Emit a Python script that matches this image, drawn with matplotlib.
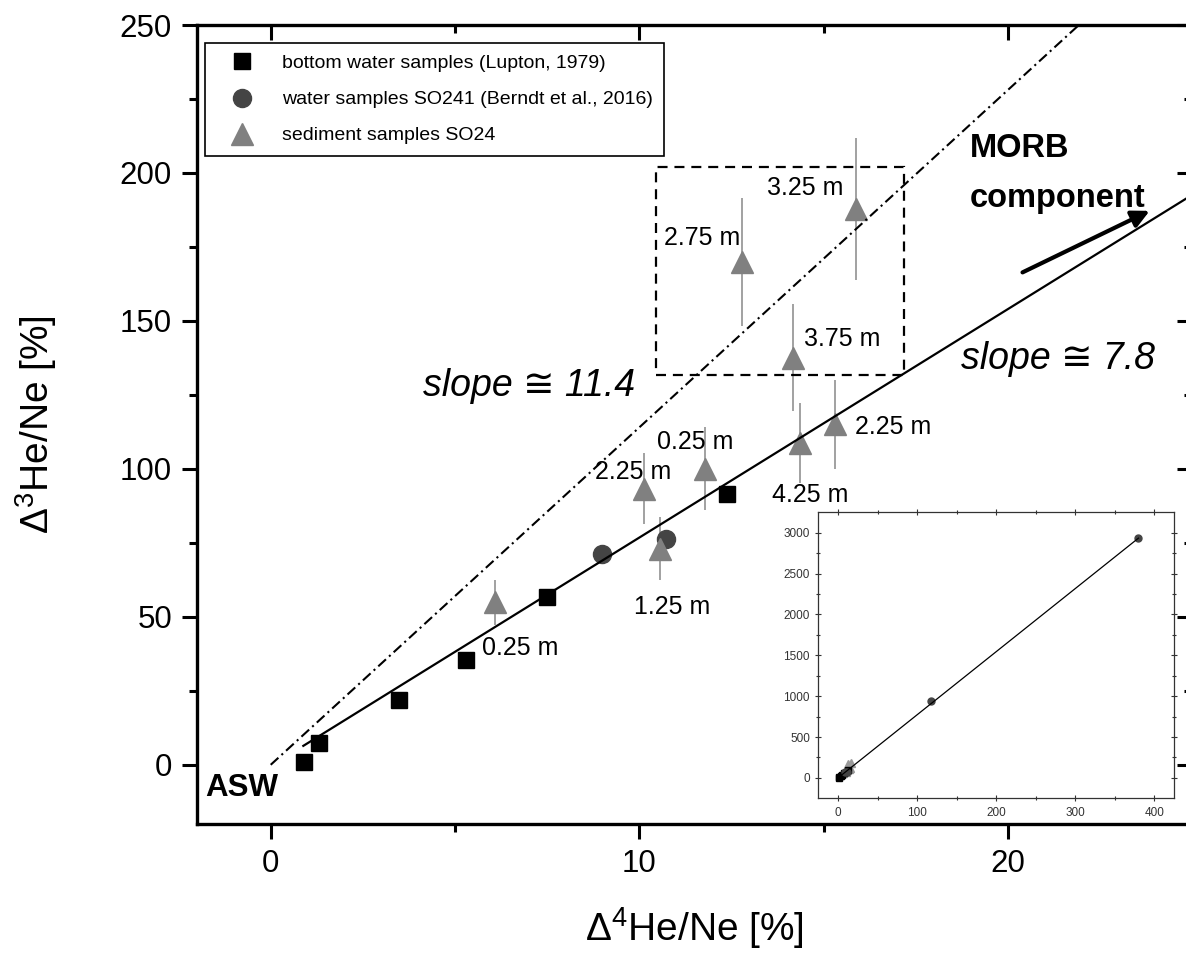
import numpy as np
import matplotlib
matplotlib.use('Agg')
import matplotlib.pyplot as plt
from matplotlib.patches import Rectangle

plt.rcParams['font.family'] = ['Liberation Sans', 'DejaVu Sans']
plt.rcParams['mathtext.fontset'] = 'custom'
plt.rcParams['mathtext.rm'] = 'Liberation Sans'
plt.rcParams['mathtext.it'] = 'Liberation Sans:italic'

# bottom water samples (Lupton, 1979)
x_sq = [0.90, 1.31, 3.48, 5.30, 7.49, 12.37]
y_sq = [0.8, 7.5, 22.0, 35.5, 56.6, 91.6]
# water samples SO241 (Berndt et al., 2016)
x_ci = [8.98, 10.72]
y_ci = [71.3, 76.3]
# extra SO241 samples only visible in the inset
x_ci_far = [117, 380]
y_ci_far = [940, 2940]
# sediment samples SO24
x_tr = [6.09, 10.14, 10.56, 11.79, 12.80, 14.18, 14.37, 15.32, 15.87]
y_tr = [55.0, 93.3, 73.0, 100.0, 169.9, 137.6, 108.6, 115.0, 187.9]
e_tr = [7.6, 12.0, 10.7, 14.0, 21.5, 18.0, 13.5, 15.0, 24.0]
depth = ['0.25 m', '2.25 m', '1.25 m', '0.25 m', '2.75 m', '3.75 m', '4.25 m', '2.25 m', '3.25 m']

# regression lines
slope_fit, icpt_fit = 7.72, -0.43
slope_hi = 11.4

# layout (data coords) for depth labels
lab_pos = [(6.77, 39.6), (9.83, 99.1), (10.9, 53.4), (11.51, 109.0), (11.7, 178.0),
           (15.52, 143.8), (14.64, 91.1), (16.89, 114.3), (14.5, 194.9)]

fig = plt.figure(figsize=(11.86, 9.58), dpi=100)
ax = fig.add_axes([0.1661, 0.1399, 1.0051 - 0.1661, 0.9739 - 0.1399])

ax.errorbar(x_tr, y_tr, yerr=e_tr, fmt='none', ecolor='#9a9a9a', elinewidth=1.3, zorder=2)
ax.plot(x_sq, y_sq, 's', color='black', ms=12, ls='', zorder=3,
        label='bottom water samples (Lupton, 1979)')
ax.plot(x_ci, y_ci, 'o', color='#444444', ms=13, ls='', zorder=3,
        label='water samples SO241 (Berndt et al., 2016)')
ax.plot(x_tr, y_tr, '^', color='#808080', ms=16, ls='', zorder=3,
        label='sediment samples SO24')

xf = np.array([0.885, 25.5])
ax.plot(xf, slope_fit * xf + icpt_fit, color='black', lw=1.6, zorder=4)
xh = np.array([0, 250 / slope_hi])
ax.plot(xh, slope_hi * xh, color='black', lw=1.5, ls=(0, (5, 2, 1, 2)), zorder=4)

ax.add_patch(Rectangle((10.46, 131.6), 17.19 - 10.46, 202.1 - 131.6, fill=False,
                       ec='black', lw=1.6, ls=(0, (4.5, 3.1)), zorder=4))

for t, (px, py) in zip(depth, lab_pos):
    ax.text(px, py, t, fontsize=18, ha='center', va='center', zorder=5)

ax.text(7.0, 127.9, 'slope \u2245 11.4', fontsize=27, style='italic', ha='center', va='center')
ax.text(21.36, 137.3, 'slope \u2245 7.8', fontsize=27, style='italic', ha='center', va='center')
ax.text(18.98, 208.4, 'MORB', fontsize=23.5, weight='bold', ha='left', va='center')
ax.text(18.98, 191.5, 'component', fontsize=23.5, weight='bold', ha='left', va='center')
ax.text(-1.78, -7.8, 'ASW', fontsize=22.5, weight='bold', ha='left', va='center')
ax.annotate('', xy=(23.85, 187.2), xytext=(20.4, 166.4),
            arrowprops=dict(arrowstyle='-|>', lw=3, color='black', mutation_scale=26,
                            shrinkA=0, shrinkB=0))

ax.set_xlim(-2, 25)
ax.set_ylim(-20, 250)
ax.set_xticks([0, 10, 20])
ax.set_xticks([5, 15], minor=True)
ax.set_yticks(np.arange(0, 251, 50))
ax.set_yticks(np.arange(25, 250, 50), minor=True)
ax.tick_params(which='major', direction='out', length=11, width=2.2, labelsize=22.5, pad=7)
ax.tick_params(which='minor', direction='out', length=6, width=2.2)
for s in ax.spines.values():
    s.set_linewidth(2.4)

top = ax.secondary_xaxis('top')
top.set_xticks([0, 10, 20])
top.set_xticks([5, 15], minor=True)
top.tick_params(which='major', direction='in', length=11, width=2.2, labeltop=False)
top.tick_params(which='minor', direction='in', length=6, width=2.2)
right = ax.secondary_yaxis('right')
right.set_yticks(np.arange(0, 251, 50))
right.set_yticks(np.arange(25, 250, 50), minor=True)
right.tick_params(which='major', direction='in', length=11, width=2.2, labelright=False)
right.tick_params(which='minor', direction='in', length=6, width=2.2)

ax.set_xlabel(r'$\mathregular{\Delta^4}$He/Ne [%]', fontsize=28, labelpad=19)
ax.set_ylabel(r'$\mathregular{\Delta^3}$He/Ne [%]', fontsize=28, labelpad=44)

leg = ax.legend(loc='upper left', bbox_to_anchor=(205 / 1186, 1 - 43 / 958),
                bbox_transform=fig.transFigure, fancybox=False, edgecolor='black',
                framealpha=1, fontsize=14, borderaxespad=0, labelspacing=0.95,
                handletextpad=0.75, borderpad=0.6, handlelength=2.6)
leg.get_frame().set_linewidth(1.2)

# inset with the full range
ax2 = fig.add_axes([818.3 / 1186, (958 - 798.3) / 958, (1174 - 818.3) / 1186, (798.3 - 512.3) / 958])
xi = np.array([0, 380])
ax2.plot(xi, slope_fit * xi, color='black', lw=0.9, zorder=4)
ax2.plot(x_tr, y_tr, '^', color='#999999', ms=6, ls='')
ax2.plot(x_sq, y_sq, 's', color='black', ms=4, ls='')
ax2.plot(x_ci + x_ci_far, y_ci + y_ci_far, 'o', color='#444444', ms=5, ls='')
ax2.set_xlim(-25, 425)
ax2.set_ylim(-250, 3250)
ax2.set_xticks(np.arange(0, 401, 100))
ax2.set_xticks(np.arange(50, 400, 100), minor=True)
ax2.set_yticks(np.arange(0, 3001, 500))
ax2.set_yticks(np.arange(250, 3000, 500), minor=True)
ax2.tick_params(which='both', labelsize=8.5, labelcolor='#333333', color='#333333', width=0.8,
                top=True, right=True, direction='inout')
ax2.tick_params(which='major', length=5)
ax2.tick_params(which='minor', length=3)
for s in ax2.spines.values():
    s.set_linewidth(0.9)
    s.set_color('#333333')

fig.savefig('out.png', dpi=100)
